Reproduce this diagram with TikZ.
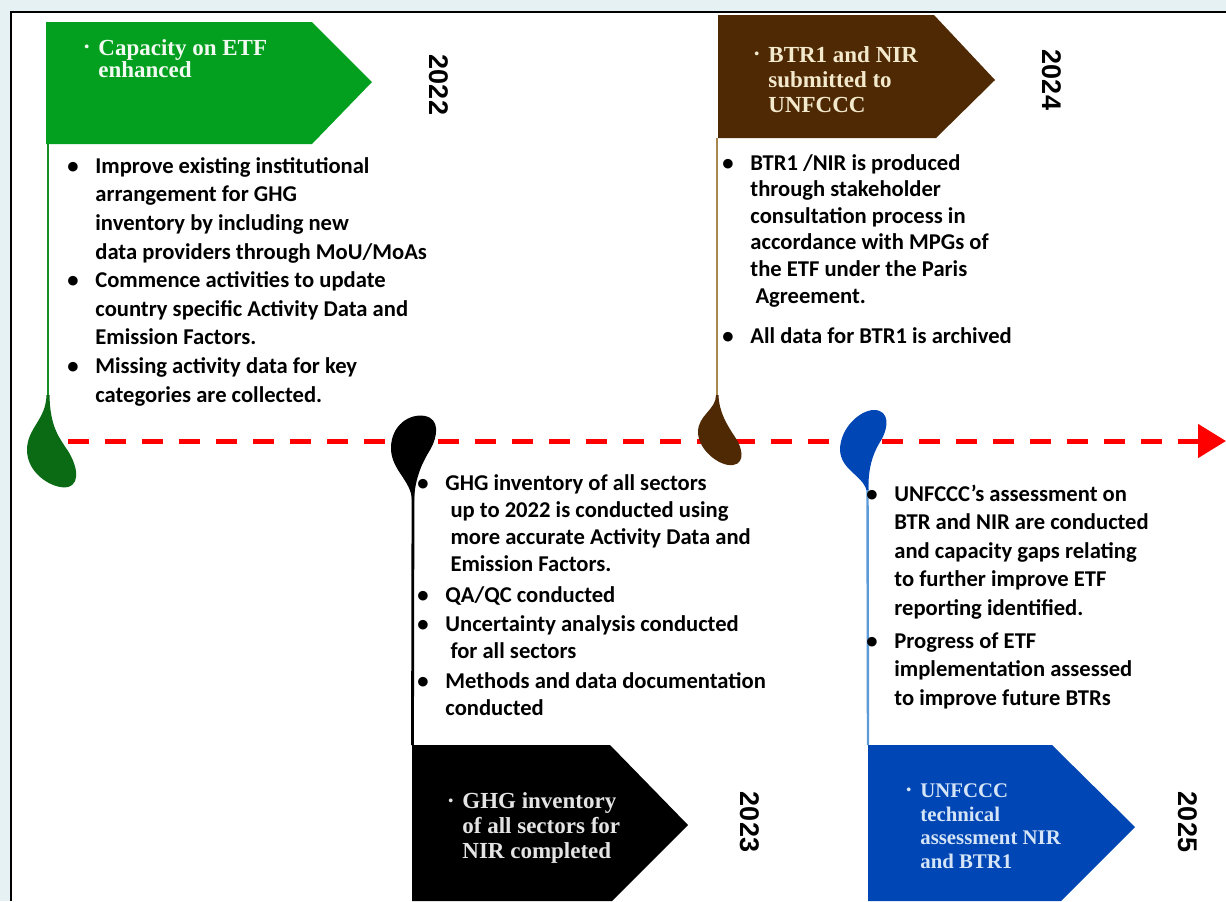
\documentclass[tikz,border=0pt]{standalone}
\usepackage{fontspec}
\setmainfont{Carlito}
\newfontfamily\flagfont{Liberation Serif}
\newfontfamily\yearfont{Liberation Sans}
\usetikzlibrary{arrows.meta}

\definecolor{bgframe}{HTML}{E5F1F3}
\definecolor{flaggreen}{HTML}{03A020}
\definecolor{dropgreen}{HTML}{0B6A14}
\definecolor{polegreen}{HTML}{168C24}
\definecolor{flagbrown}{HTML}{4E2904}
\definecolor{polebrown}{HTML}{A8884F}
\definecolor{flagblue}{HTML}{0046B4}
\definecolor{poleblue}{HTML}{5C9BD8}
\definecolor{txtgreen}{HTML}{F2FAF2}
\definecolor{txtbrown}{HTML}{F3E9CC}
\definecolor{txtblack}{HTML}{E4E4E4}
\definecolor{txtblue}{HTML}{D5E5F7}

\newcommand{\bul}{\makebox[14pt][l]{\textbullet}}
\newcommand{\ind}{\hspace*{14pt}}
\newcommand{\fbul}{\makebox[7pt][l]{\raisebox{0.35ex}{\fontsize{7}{7}\selectfont\textbullet}}}
\newcommand{\find}{\hspace*{7pt}}

\begin{document}
\begin{tikzpicture}[x=0.5pt,y=-0.5pt,
  lst/.style={inner sep=0pt,anchor=base west,align=left,font=\bfseries\fontsize{11.3}{#1}\selectfont},
  flagtxt/.style={inner sep=0pt,anchor=base west,align=left,font=\flagfont\bfseries\fontsize{11.5}{#1}\selectfont},
  year/.style={inner sep=0pt,rotate=-90,font=\yearfont\bfseries\fontsize{13.5}{14}\selectfont},
  pole/.style={line width=1pt}]
\useasboundingbox (0,0) rectangle (1226,901);
% frame
\fill[bgframe] (0,0) rectangle (1226,901);
\fill[white] (11,12) rectangle (1226,901);
\draw[line width=1pt] (11,901) -- (11,12) -- (1226,12);

% time line
\coordinate (t0) at (68,441);
\coordinate (t1) at (1226,441);
\draw[red,line width=2.5pt,dash pattern=on 10.5pt off 8pt,-{Triangle[length=14pt,width=16.5pt]}] (t0) -- (t1);

% poles
\coordinate (gflag) at (48,143);   \coordinate (gdrop) at (48,400);
\coordinate (kflag) at (412.5,745); \coordinate (kdrop) at (413,490);
\coordinate (bflag) at (717,138);  \coordinate (bdrop) at (717,400);
\coordinate (uflag) at (868,745);  \coordinate (udrop) at (867.5,485);
\draw[pole,polegreen] (gflag) -- (gdrop);
\draw[pole,line width=1.4pt,black] (kflag) -- (kdrop);
\draw[pole,polebrown] (bflag) -- (bdrop);
\draw[pole,line width=1.2pt,poleblue] (uflag) -- (udrop);

% drops
\fill[dropgreen] (46.5,395) .. controls (46,420) and (27,428) .. (27,450) .. controls (27,475) and (55,490) .. (68,487) .. controls (82,483) and (76,462) .. (66,448) .. controls (58,436) and (50,425) .. (49.5,395) -- cycle;
\fill[black] (412,500) .. controls (411,480) and (391,470) .. (391,448) .. controls (391,425) and (410,413) .. (425,416) .. controls (440,419) and (438,436) .. (430,450) .. controls (422,463) and (415,478) .. (414,500) -- cycle;
\fill[flagbrown] (716,395) .. controls (716,410) and (698,415) .. (698,432) .. controls (698,450) and (720,467) .. (733,465) .. controls (746,463) and (742,447) .. (735,437) .. controls (727,425) and (719,412) .. (718.5,395) -- cycle;
\fill[flagblue] (866.5,490) .. controls (862,475) and (841,470) .. (840,450) .. controls (840,428) and (860,410) .. (874,410) .. controls (890,410) and (889,428) .. (880,442) .. controls (872,455) and (868,470) .. (868.5,490) -- cycle;

% flags
\fill[flaggreen] (46,22) -- (312,22) -- (372,82) -- (312,144) -- (46,144) -- cycle;
\fill[flagbrown] (718,15) -- (934,15) -- (995,80) -- (936,138) -- (718,138) -- cycle;
\fill[black] (412,745) -- (610,745) -- (688,825) -- (612,901) -- (412,901) -- cycle;
\fill[flagblue] (868,745) -- (1052,745) -- (1135,827) -- (1061,901) -- (868,901) -- cycle;

% flag texts (anchored on their last line)
\node[flagtxt=11pt,txtgreen] (gtxt) at (84,77) {\fbul Capacity on ETF\\\find enhanced};
\node[flagtxt=12.5pt,txtbrown] (btxt) at (754,112) {\fbul BTR1 and NIR\\\find submitted to\\\find UNFCCC};
\node[flagtxt=12.3pt,txtblack] (ktxt) at (448,858) {\fbul GHG inventory\\\find of all sectors for\\\find NIR completed};
\node[flagtxt=11.7pt,txtblue,font=\flagfont\bfseries\fontsize{10.4}{11.7}\selectfont] (utxt) at (906,868) {\fbul UNFCCC\\\find technical\\\find assessment NIR\\\find and BTR1};

% years
\node[year] (y22) at (439,85) {2022};
\node[year] (y23) at (750,822) {2023};
\node[year] (y24) at (1052,80) {2024};
\node[year] (y25) at (1188,822) {2025};

% activities
\node[lst=14.3pt] (l22) at (67,402) {\bul Improve existing institutional\\
\ind arrangement for GHG\\
\ind inventory by including new\\
\ind data providers through MoU/MoAs\\
\bul Commence activities to update\\
\ind country specific Activity Data and\\
\ind Emission Factors.\\
\bul Missing activity data for key\\
\ind categories are collected.};
\node[lst=13.5pt] (l23) at (417,715) {\bul GHG inventory of all sectors\\
\ind\ up to 2022 is conducted using\\
\ind\ more accurate Activity Data and\\
\ind\ Emission Factors.\\[2pt]
\bul QA/QC conducted\\[1pt]
\bul Uncertainty analysis conducted\\
\ind\ for all sectors\\[1.5pt]
\bul Methods and data documentation\\
\ind conducted};
\node[lst=13.3pt] (l24) at (722,343) {\bul BTR1 /NIR is produced\\
\ind through stakeholder\\
\ind consultation process in\\
\ind accordance with MPGs of\\
\ind the ETF under the Paris\\
\ind\ Agreement.\\[6.7pt]
\bul All data for BTR1 is archived};
\node[lst=14.25pt] (l25) at (866,705) {\bul UNFCCC’s assessment on\\
\ind BTR and NIR are conducted\\
\ind and capacity gaps relating\\
\ind to further improve ETF\\
\ind reporting identified.\\[2.2pt]
\bul Progress of ETF\\
\ind implementation assessed\\
\ind to improve future BTRs};
\end{tikzpicture}
\end{document}
